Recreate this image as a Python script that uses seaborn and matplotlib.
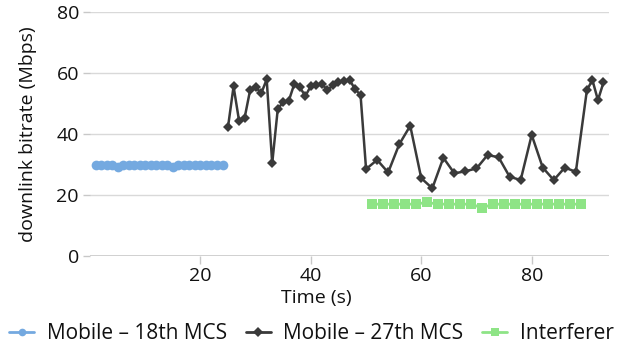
import matplotlib
matplotlib.use("Agg")
import matplotlib.pyplot as plt
from matplotlib.lines import Line2D
import seaborn as sns
import pandas as pd
import numpy as np

# Mobile - 18th MCS (1 s samples)
t_18 = list(range(1, 25))
v_18 = [30, 30, 30, 30, 29.3, 30, 30, 30, 30, 30, 30, 30, 30, 30, 29.3,
        30, 30, 30, 30, 30, 30, 30, 30, 30]

# Mobile - 27th MCS
t_27 = list(range(25, 51)) + list(range(52, 90, 2)) + [90, 91, 92, 93]
v_27 = [42.4, 55.6, 44.3, 45.3, 54.4, 55.5, 53.3, 57.9, 30.4, 48.1,
        50.6, 50.9, 56.4, 55.3, 52.5, 55.7, 56.0, 56.4, 54.4, 56.0,
        57.0, 57.5, 57.8, 54.7, 52.8, 28.5,
        31.5, 27.4, 36.6, 42.7, 25.5, 22.2, 32.2, 27.1, 27.8, 28.7,
        33.1, 32.4, 26.0, 24.9, 39.7, 29.0, 24.9, 29.0, 27.6,
        54.4, 57.7, 51.1, 56.9]

# Interferer (2 s samples)
t_int = list(range(51, 90, 2))
v_int = [17, 17, 17, 17, 17, 17.6, 17, 17, 17, 17, 15.8, 17, 17, 17, 17,
         17, 17, 17, 17, 17]

series_names = ["Mobile \u2013 18th MCS", "Mobile \u2013 27th MCS", "Interferer"]
colors = ["#74A9E0", "#3A3A3A", "#8EE486"]
markers = ["o", "D", "s"]
msizes = [7, 4.8, 6.8]
lwidths = [2.4, 1.8, 2.0]

df = pd.concat([
    pd.DataFrame({"time": t_18, "rate": v_18, "series": series_names[0]}),
    pd.DataFrame({"time": t_27, "rate": v_27, "series": series_names[1]}),
    pd.DataFrame({"time": t_int, "rate": v_int, "series": series_names[2]}),
])

sns.set_theme(style="white")
plt.rcParams["font.family"] = ["Open Sans", "DejaVu Sans"]
plt.rcParams["text.color"] = "#111111"
plt.rcParams["xtick.labelcolor"] = "#111111"
plt.rcParams["ytick.labelcolor"] = "#111111"
plt.rcParams["axes.labelcolor"] = "#111111"

fig = plt.figure(figsize=(6.23, 3.49), dpi=100)
ax = fig.add_axes([0.1445, 0.2665, 0.833, 0.699])

# grid first so the data sits on top
for yv in [20, 40, 60, 80]:
    ax.axhline(yv, color="#D9D9D9", lw=1, zorder=0)
ax.axhline(0, color="#C8C8C8", lw=1.2, zorder=0)

for name, c, m, ms, lw in zip(series_names, colors, markers, msizes, lwidths):
    sub = df[df["series"] == name]
    sns.lineplot(data=sub, x="time", y="rate", ax=ax, color=c, marker=m,
                 markersize=ms, markeredgewidth=0, linewidth=lw,
                 legend=False, zorder=3)

ax.set_xlim(0, 94)
ax.set_ylim(0, 80)
ax.set_xticks([20, 40, 60, 80])
ax.set_yticks([0, 20, 40, 60, 80])
for s in ax.spines.values():
    s.set_visible(False)
ax.tick_params(axis="x", bottom=True, length=6, width=1, color="#C8C8C8",
               labelsize=14, pad=2)
ax.tick_params(axis="y", left=True, length=5, width=1, color="#C8C8C8",
               labelsize=14, pad=3)
ax.set_xlabel("")
ax.set_ylabel("downlink bitrate (Mbps)", fontsize=14, labelpad=14)
fig.text(0.507, 0.145, "Time (s)", ha="center", va="center", fontsize=14)

handles = [Line2D([0], [0], color=c, marker=m, markersize=5.5, lw=2, markeredgewidth=0)
           for c, m in zip(colors, markers)]
fig.legend(handles, series_names, loc="center", bbox_to_anchor=(0.5, 0.045),
           ncol=3, frameon=False, fontsize=15, handlelength=1.2,
           handletextpad=0.6, columnspacing=0.9, borderaxespad=0)

fig.savefig("out.png", dpi=100)
